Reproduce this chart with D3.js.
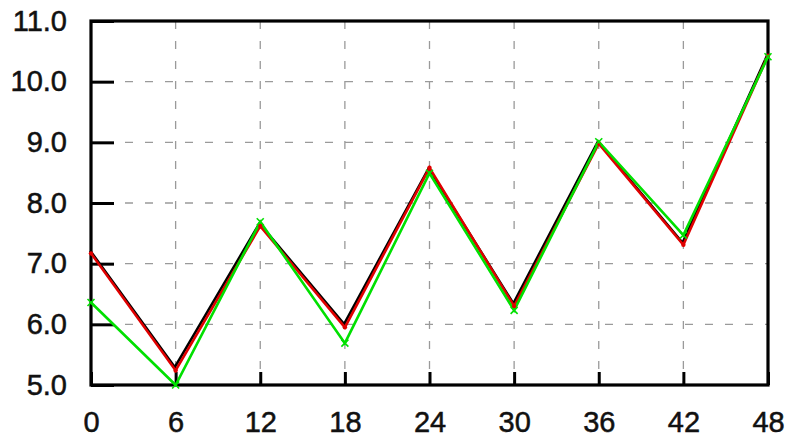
<!DOCTYPE html>
<html>
<head>
<meta charset="utf-8">
<script src="https://cdn.jsdelivr.net/npm/d3@7"></script>
<style>
  html, body { margin: 0; padding: 0; background: #fff; }
  svg { display: block; }
  .tick text { font-family: "Liberation Sans", Arial, sans-serif; font-size: 29px; fill: #111;
               stroke: #111; stroke-width: 0.5px; }
</style>
</head>
<body>
<svg id="chart" width="788" height="440"></svg>
<script>
// Hours on the x axis
const hours = [0, 6, 12, 18, 24, 30, 36, 42, 48];
// Three measured series
const blackSeries = [7.20, 5.28, 7.65, 5.99, 8.56, 6.33, 9.00, 7.33, 10.42];
const redSeries   = [7.17, 5.24, 7.62, 5.95, 8.58, 6.30, 8.98, 7.31, 10.43];
const greenSeries = [6.36, 5.00, 7.69, 5.69, 8.49, 6.23, 9.01, 7.47, 10.41];
// Tick values
const xTicks = [0, 6, 12, 18, 24, 30, 36, 42, 48];
const yTicks = [5, 6, 7, 8, 9, 10, 11];

const svg = d3.select("#chart");
const plotLeft = 91, plotRight = 768, plotTop = 21, plotBottom = 385;

const x = d3.scaleLinear().domain([0, 48]).range([plotLeft, plotRight]);
const y = d3.scaleLinear().domain([5, 11]).range([plotBottom, plotTop]);

// dashed grid
const grid = svg.append("g").attr("stroke", "#9a9a9a").attr("stroke-width", 1.3)
  .attr("stroke-dasharray", "8,12");
grid.selectAll("line.v").data(xTicks.slice(1, -1)).join("line").attr("class", "v")
  .attr("x1", d => x(d)).attr("x2", d => x(d)).attr("y1", plotTop).attr("y2", plotBottom);
grid.selectAll("line.h").data(yTicks.slice(1, -1)).join("line").attr("class", "h")
  .attr("y1", d => y(d)).attr("y2", d => y(d)).attr("x1", plotLeft + 34).attr("x2", plotRight);

// axes with inward ticks
const yAxis = d3.axisLeft(y).tickValues(yTicks).tickSize(-23).tickPadding(24)
  .tickFormat(d3.format(".1f"));
const xAxis = d3.axisBottom(x).tickValues(xTicks).tickSize(-13).tickPadding(26)
  .tickFormat(d3.format("d"));

const gy = svg.append("g").attr("transform", `translate(${plotLeft},0)`).call(yAxis);
const gx = svg.append("g").attr("transform", `translate(0,${plotBottom})`).call(xAxis);
[gy, gx].forEach(g => {
  g.select(".domain").remove();
  g.selectAll(".tick line").attr("stroke", "#000").attr("stroke-width", 3);
});

// frame
svg.append("rect")
  .attr("x", plotLeft).attr("y", plotTop)
  .attr("width", plotRight - plotLeft).attr("height", plotBottom - plotTop)
  .attr("fill", "none").attr("stroke", "#000").attr("stroke-width", 3.2);

const line = d3.line().x((d, i) => x(hours[i])).y(d => y(d));

function drawSeries(values, color, dx, dy) {
  svg.append("path").datum(values)
    .attr("transform", `translate(${dx},${dy})`)
    .attr("fill", "none").attr("stroke", color)
    .attr("stroke-width", 2.6).attr("stroke-linejoin", "miter")
    .attr("d", line);
}
drawSeries(blackSeries, "#000", -0.8, -0.8);
drawSeries(redSeries, "#e00000", 0, 0);
drawSeries(greenSeries, "#00e000", 0, 0);

// red point markers
svg.append("g").selectAll("circle").data(redSeries).join("circle")
  .attr("cx", (d, i) => x(hours[i])).attr("cy", d => y(d))
  .attr("r", 2.2).attr("fill", "#e00000");

// green cross markers
const cross = svg.append("g").attr("stroke", "#00e000").attr("stroke-width", 1.6);
greenSeries.forEach((d, i) => {
  const cx = x(hours[i]), cy = y(d), s = 3.5;
  cross.append("line").attr("x1", cx - s).attr("y1", cy - s).attr("x2", cx + s).attr("y2", cy + s);
  cross.append("line").attr("x1", cx - s).attr("y1", cy + s).attr("x2", cx + s).attr("y2", cy - s);
});
</script>
</body>
</html>
